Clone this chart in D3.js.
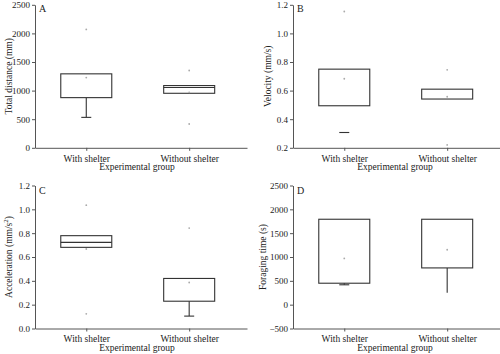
<!DOCTYPE html>
<html>
<head>
<meta charset="utf-8">
<script src="https://cdn.jsdelivr.net/npm/d3@7"></script>
<style>
  body { margin: 0; background: #fff; }
  text { font-family: "Liberation Serif", "Times New Roman", serif; fill: #222; }
  .axis path, .axis line { stroke: #555; }
  .axis text { font-size: 9px; font-family: "Liberation Serif", serif; fill: #222; }
</style>
</head>
<body>
<div id="chart"></div>
<script>
// groups on the x axis
const groups = ["With shelter", "Without shelter"];

// one entry per panel: A, B, C, D
const panelLetters = ["A", "B", "C", "D"];
const yTitles = ["Total distance (mm)", "Velocity (mm/s)", "Acceleration (mm/s2)", "Foraging time (s)"];
const yDomains = [[0, 2500], [0.2, 1.2], [0, 1.2], [-500, 2500]];
const yTicks = [
    [0, 500, 1000, 1500, 2000, 2500],
    [0.2, 0.4, 0.6, 0.8, 1.0, 1.2],
    [0.0, 0.2, 0.4, 0.6, 0.8, 1.0, 1.2],
    [-500, 0, 500, 1000, 1500, 2000, 2500]
];
const yFormats = ["d", ".1f", ".1f", "d"];

// box values [with shelter, without shelter]
const q1 = [[877, 953], [0.494, 0.541], [0.681, 0.229], [450, 771]];
const q3 = [[1293, 1088], [0.750, 0.610], [0.779, 0.420], [1792, 1792]];
const medians = [[null, 1053], [null, null], [0.723, null], [null, null]];
const whiskerLow = [[532, null], [null, null], [null, 0.104], [417, 250]];
const capLow = [[532, null], [0.307, null], [null, 0.104], [417, null]];
const points = [
    [[2070, 1228], [1351, 970, 416]],
    [[1.153, 0.683], [0.745, 0.557, 0.22]],
    [[1.035, 0.667, 0.123], [0.843, 0.386]],
    [[971], [1152]]
];

const W = 500, H = 354;
const plotW = 212, plotH = 143;
const originX = [35, 293, 35, 293];
const originY = [4.8, 4.8, 185.5, 185.5];
const titleOffset = [-23, -22, -23, -27];

const svg = d3.select("#chart").append("svg")
    .attr("width", W)
    .attr("height", H);

panelLetters.forEach((letter, p) => {
    let g = svg.append("g")
        .attr("transform", `translate(${originX[p]}, ${originY[p]})`);

    let x = d3.scalePoint().domain(groups).range([0, plotW]).padding(0.53).align(0.47);
    let y = d3.scaleLinear().domain(yDomains[p]).range([plotH, 0]);
    let boxW = 51, capW = 10;

    // axes
    g.append("g")
        .attr("class", "axis")
        .call(d3.axisLeft(y).tickValues(yTicks[p]).tickSize(3).tickSizeOuter(0).tickPadding(2)
            .tickFormat(d3.format(yFormats[p])));

    g.append("g")
        .attr("class", "axis")
        .attr("transform", `translate(0, ${plotH})`)
        .call(d3.axisBottom(x).tickSize(3).tickSizeOuter(0).tickPadding(4))
        .selectAll("text").style("font-size", "9.5px");

    // panel letter
    g.append("text")
        .attr("x", 4)
        .attr("y", p < 2 ? 7 : 8)
        .style("font-size", "10px")
        .text(letter);

    // axis titles
    g.append("text")
        .attr("x", plotW / 2 - 4)
        .attr("y", plotH + 22)
        .attr("text-anchor", "middle")
        .style("font-size", "9.5px")
        .text("Experimental group");

    let yt = g.append("text")
        .attr("transform", `translate(${titleOffset[p]}, ${plotH / 2}) rotate(-90)`)
        .attr("text-anchor", "middle")
        .style("font-size", "9.5px");
    if (p == 2) {
        yt.text("Acceleration (mm/s");
        yt.append("tspan").attr("baseline-shift", "super").style("font-size", "7px").text("2");
        yt.append("tspan").text(")");
    } else {
        yt.text(yTitles[p]);
    }

    groups.forEach((grp, i) => {
        let cx = x(grp);

        // whisker
        if (whiskerLow[p][i] != null) {
            g.append("line")
                .attr("x1", cx).attr("x2", cx)
                .attr("y1", y(q1[p][i])).attr("y2", y(whiskerLow[p][i]))
                .attr("stroke", "#333").attr("stroke-width", 1.1);
        }
        if (capLow[p][i] != null) {
            g.append("line")
                .attr("x1", cx - capW / 2).attr("x2", cx + capW / 2)
                .attr("y1", y(capLow[p][i])).attr("y2", y(capLow[p][i]))
                .attr("stroke", "#333").attr("stroke-width", 1.1);
        }

        // box
        g.append("rect")
            .attr("x", cx - boxW / 2)
            .attr("y", y(q3[p][i]))
            .attr("width", boxW)
            .attr("height", y(q1[p][i]) - y(q3[p][i]))
            .attr("fill", "none")
            .attr("stroke", "#333")
            .attr("stroke-width", 1.1);

        // median
        if (medians[p][i] != null) {
            g.append("line")
                .attr("x1", cx - boxW / 2).attr("x2", cx + boxW / 2)
                .attr("y1", y(medians[p][i])).attr("y2", y(medians[p][i]))
                .attr("stroke", "#333").attr("stroke-width", 1.1);
        }

        // faint data points
        g.selectAll(".pt" + i)
            .data(points[p][i])
            .enter().append("circle")
            .attr("class", "pt" + i)
            .attr("cx", cx)
            .attr("cy", d => y(d))
            .attr("r", 0.9)
            .attr("fill", "#aaa");
    });
});
</script>
</body>
</html>
